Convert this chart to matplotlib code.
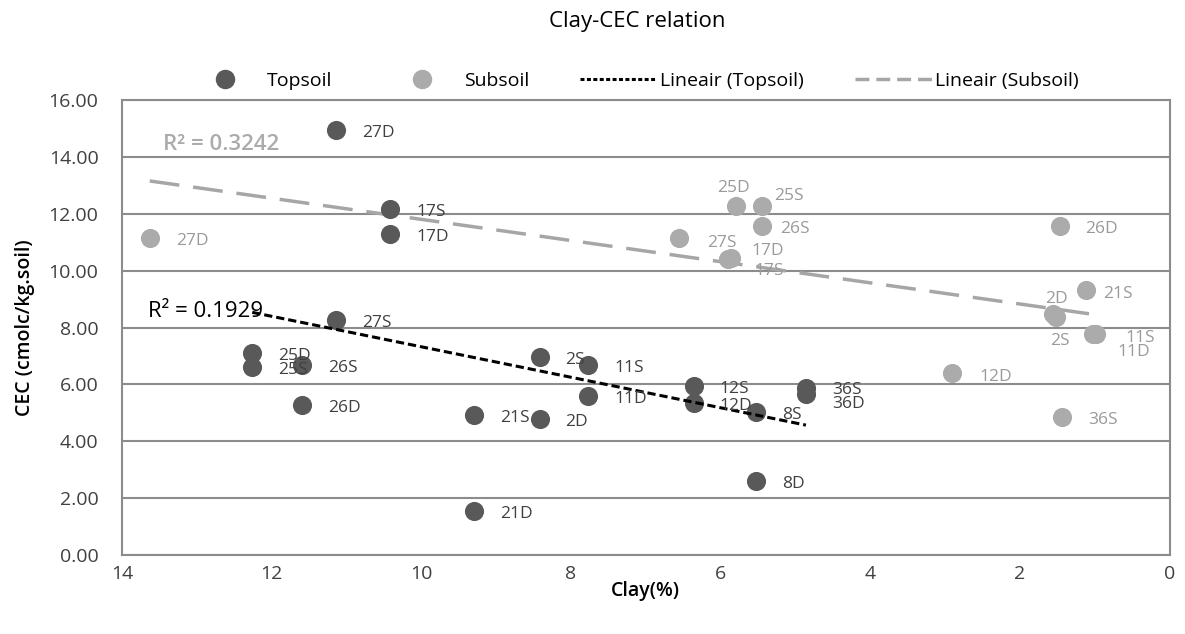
import numpy as np
import matplotlib
matplotlib.use("Agg")
import matplotlib.pyplot as plt
from matplotlib.lines import Line2D

plt.rcParams['font.family'] = ['Open Sans', 'DejaVu Sans']

# topsoil samples
top_names = ['27D', '17S', '17D', '27S', '25D', '25S', '26S', '26D', '21S', '21D',
             '2S', '2D', '11S', '11D', '12S', '12D', '8S', '8D', '36S', '36D']
top_clay = [11.14, 10.42, 10.42, 11.14, 12.26, 12.26, 11.59, 11.59, 9.30, 9.30,
            8.42, 8.42, 7.77, 7.77, 6.36, 6.36, 5.53, 5.53, 4.86, 4.86]
top_cec = [14.95, 12.18, 11.30, 8.28, 7.09, 6.60, 6.67, 5.26, 4.91, 1.54,
           6.95, 4.77, 6.67, 5.61, 5.96, 5.33, 5.02, 2.60, 5.89, 5.65]

# subsoil samples
sub_names = ['27D', '25D', '25S', '26S', '27S', '17D', '17S', '26D', '21S',
             '2D', '2S', '11S', '11D', '12D', '36S']
sub_clay = [13.63, 5.80, 5.45, 5.45, 6.55, 5.86, 5.90, 1.47, 1.12,
            1.56, 1.52, 0.98, 1.03, 2.91, 1.44]
sub_cec = [11.16, 12.28, 12.28, 11.57, 11.16, 10.45, 10.40, 11.57, 9.32,
           8.48, 8.38, 7.78, 7.78, 6.39, 4.84]

r2_top = "R² = 0.1929"
r2_sub = "R² = 0.3242"

TOP_C = '#595959'
SUB_C = '#ABABAB'

# label offsets in pixels (dx, dy, ha)
DEFAULT_OFF = (26, -3, 'left')
top_off = {'36D': (26, -10, 'left'), '36S': (26, -2, 'left')}
sub_off = {'25D': (-2, 18, 'center'), '25S': (12, 10, 'left'),
           '26S': (18, -3, 'left'), '27S': (28, -5, 'left'),
           '17D': (20, 7, 'left'), '17S': (26, -12, 'left'),
           '21S': (17, -4, 'left'), '2D': (4, 15, 'center'),
           '2S': (4, -24, 'center'), '11S': (29, -4, 'left'),
           '11D': (25, -18, 'left'), '12D': (28, -4, 'left')}

fig = plt.figure(figsize=(11.85, 6.34), dpi=100)
ax = fig.add_axes([0.103, 0.1246, 0.884, 0.7175])

ax.scatter(top_clay, top_cec, s=190, color=TOP_C, zorder=3, linewidths=0)
ax.scatter(sub_clay, sub_cec, s=190, color=SUB_C, zorder=3, linewidths=0)

def add_labels(names, xs, ys, offs, color):
  for n, x, y in zip(names, xs, ys):
    dx, dy, ha = offs.get(n, DEFAULT_OFF)
    ax.annotate(n, (x, y), xytext=(dx, dy), textcoords='offset pixels',
                ha=ha, va='center', fontsize=12.5, color=color, zorder=5)

add_labels(top_names, top_clay, top_cec, top_off, '#404040')
add_labels(sub_names, sub_clay, sub_cec, sub_off, '#9A9A9A')

# linear trendlines
def trend(xs, ys):
  xs = np.array(xs); ys = np.array(ys)
  k, b = np.polyfit(xs, ys, 1)
  xx = np.array([xs.max(), xs.min()])
  return xx, k*xx + b

tx, ty = trend(top_clay, top_cec)
ax.plot(tx, ty, color='black', lw=2.2, dashes=(2.7, 1.3), zorder=4)
sx, sy = trend(sub_clay, sub_cec)
ax.plot(sx, sy, color='#A6A6A6', lw=2.5, dashes=(8.6, 4), zorder=2)

ax.text(13.45, 14.45, r2_sub, color=SUB_C, fontsize=16, fontweight='semibold',
        ha='left', va='center')
ax.text(13.65, 8.55, r2_top, color='black', fontsize=16, ha='left', va='center')

ax.set_xlim(14, 0)
ax.set_ylim(0, 16)
ax.set_xticks(np.arange(14, -1, -2))
ax.set_yticks(np.arange(0, 17, 2))
ax.set_yticklabels(['%.2f' % v for v in np.arange(0, 17, 2)])
ax.tick_params(labelsize=14, length=0, colors='#404040')
ax.tick_params(axis='y', pad=17)
ax.tick_params(axis='x', pad=7)
ax.grid(axis='y', color='#8C8C8C', lw=1.5)
ax.set_axisbelow(True)
for sp in ax.spines.values():
  sp.set_color('#8C8C8C')
  sp.set_linewidth(1.5)

ax.set_xlabel('Clay(%)', fontsize=14, fontweight='semibold', labelpad=-1)
ax.set_ylabel('CEC (cmolc/kg.soil)', fontsize=14, fontweight='semibold', labelpad=10)
fig.text(0.538, 0.966, 'Clay-CEC relation', ha='center', va='center', fontsize=16)

handles = [
  Line2D([], [], ls='none', marker='o', ms=13, color=TOP_C),
  Line2D([], [], ls='none', marker='o', ms=13, color=SUB_C),
  Line2D([], [], color='black', lw=2.2, dashes=(1.3, 0.8)),
  Line2D([], [], color='#A6A6A6', lw=2.5, dashes=(4, 2)),
]
labels = ['Topsoil', 'Subsoil', 'Lineair (Topsoil)', 'Lineair (Subsoil)']
fig.legend(handles, labels, loc='center', bbox_to_anchor=(0.534, 0.873), ncol=4,
           frameon=False, fontsize=14, handlelength=4.0, handletextpad=0.15,
           columnspacing=2.6)

fig.savefig('out.png', dpi=100)
